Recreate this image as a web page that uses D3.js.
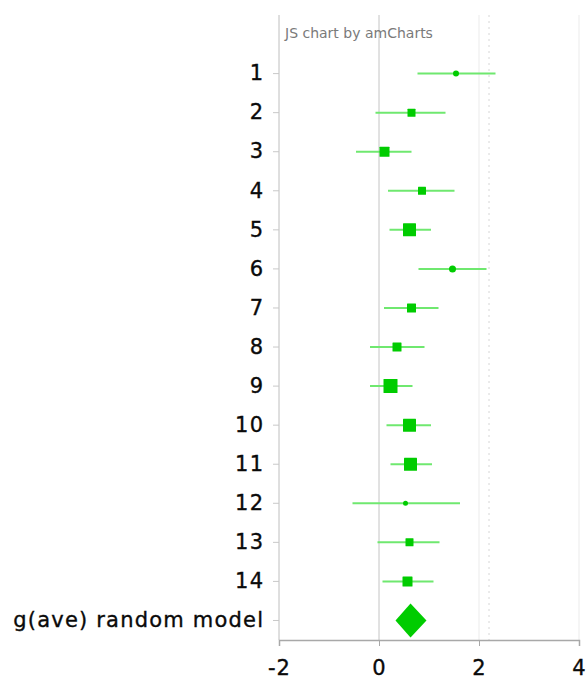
<!DOCTYPE html>
<html>
<head>
<meta charset="utf-8">
<script src="https://cdn.jsdelivr.net/npm/d3@7"></script>
<style>
  html, body { margin: 0; padding: 0; background: #fff; }
  svg { display: block; }
</style>
</head>
<body>
<div id="chart"></div>
<script>
// ---- data ----
const studies = ["1","2","3","4","5","6","7","8","9","10","11","12","13","14"];
const estimates = [1.54, 0.65, 0.11, 0.86, 0.61, 1.47, 0.65, 0.36, 0.23, 0.61, 0.63, 0.53, 0.61, 0.57];
const lowers    = [0.77, -0.07, -0.46, 0.18, 0.21, 0.79, 0.10, -0.18, -0.18, 0.15, 0.23, -0.53, -0.03, 0.07];
const uppers    = [2.33, 1.33, 0.65, 1.51, 1.04, 2.15, 1.19, 0.91, 0.67, 1.04, 1.06, 1.62, 1.21, 1.09];
const weights   = [6, 8, 10, 8, 13, 7, 9, 9, 14, 13, 13, 5, 8, 10];
const summaryLabel = "g(ave) random model";
const summaryEstimate = 0.63;
const summaryLower = 0.33;
const summaryUpper = 0.95;
const xTicks = [-2, 0, 2, 4];
const referenceValue = 2.2;

// ---- layout ----
const W = 586, H = 684;
const margin = { top: 15, right: 7, bottom: 44, left: 279 };
const width = W - margin.left - margin.right;
const height = H - margin.top - margin.bottom;
const font = "DejaVu Sans, Verdana, sans-serif";

const svg = d3.select("#chart").append("svg").attr("width", W).attr("height", H);
const g = svg.append("g").attr("transform", `translate(${margin.left},${margin.top})`);

const x = d3.scaleLinear().domain([-2, 4]).range([0, 300]);
const cats = studies.concat([summaryLabel]);
const step = height / (cats.length + 1);
const y = d3.scaleBand().domain(cats).range([step, height]);
const yc = c => y(c) + y.bandwidth() / 2;
const size = d3.scaleLinear().domain([0, 14]).range([0, 14]);

// gridlines
g.append("g").selectAll("line").data(xTicks).join("line")
  .attr("x1", d => x(d)).attr("x2", d => x(d))
  .attr("y1", 0).attr("y2", height)
  .attr("stroke", d => d === 0 ? "#c4c4c4" : "#ebebeb")
  .attr("stroke-width", 1);

// reference dotted line
g.append("line")
  .attr("x1", x(referenceValue)).attr("x2", x(referenceValue))
  .attr("y1", 0).attr("y2", height)
  .attr("stroke", "#d6d6d6").attr("stroke-dasharray", "2,4");

// y axis
const yAxis = g.append("g")
  .call(d3.axisLeft(y).tickSize(6).tickPadding(10));
yAxis.select(".domain").attr("stroke", "#c8c8c8").attr("d", `M0,0V${height}`);
yAxis.selectAll(".tick line").attr("stroke", "#c8c8c8");
yAxis.selectAll(".tick text")
  .attr("font-family", font)
  .attr("font-size", 21).attr("letter-spacing", "1.2px").attr("fill", "#0a0a0a")
  .attr("stroke", "#0a0a0a").attr("stroke-width", 0.35)
  .attr("dx", "1.2px");

// x axis
const xAxis = g.append("g").attr("transform", `translate(0,${height})`)
  .call(d3.axisBottom(x).tickValues(xTicks).tickSize(6).tickPadding(14).tickFormat(d3.format("d")));
xAxis.select(".domain").attr("stroke", "#a8a8a8").attr("stroke-width", 1.5);
xAxis.selectAll(".tick line").attr("stroke", "#a8a8a8");
xAxis.selectAll(".tick text")
  .attr("font-family", font)
  .attr("font-size", 21).attr("letter-spacing", "1px").attr("fill", "#0a0a0a")
  .attr("stroke", "#0a0a0a").attr("stroke-width", 0.35)
  .text(d => d < 0 ? "-" + Math.abs(d) : d);

// CI lines
g.append("g").selectAll("line").data(studies).join("line")
  .attr("x1", (d, i) => x(lowers[i])).attr("x2", (d, i) => x(uppers[i]))
  .attr("y1", d => yc(d)).attr("y2", d => yc(d))
  .attr("stroke", "#6fe86f").attr("stroke-width", 2);

// squares
g.append("g").selectAll("rect").data(studies).join("rect")
  .attr("x", (d, i) => x(estimates[i]) - size(weights[i]) / 2)
  .attr("y", (d, i) => yc(d) - size(weights[i]) / 2)
  .attr("width", (d, i) => size(weights[i]))
  .attr("height", (d, i) => size(weights[i]))
  .attr("rx", (d, i) => weights[i] <= 7 ? size(weights[i]) / 2 : 0.5)
  .attr("fill", "#00cc00");

// summary diamond
const cy = yc(summaryLabel);
const hh = 17;
g.append("path")
  .attr("d", `M${x(summaryLower)},${cy} L${x(summaryEstimate)},${cy - hh} L${x(summaryUpper)},${cy} L${x(summaryEstimate)},${cy + hh} Z`)
  .attr("fill", "#00cc00");

// credit text
g.append("text")
  .attr("x", 6).attr("y", 23)
  .attr("font-family", font)
  .attr("font-size", 14).attr("fill", "#7a7a7a")
  .text("JS chart by amCharts");
</script>
</body>
</html>
